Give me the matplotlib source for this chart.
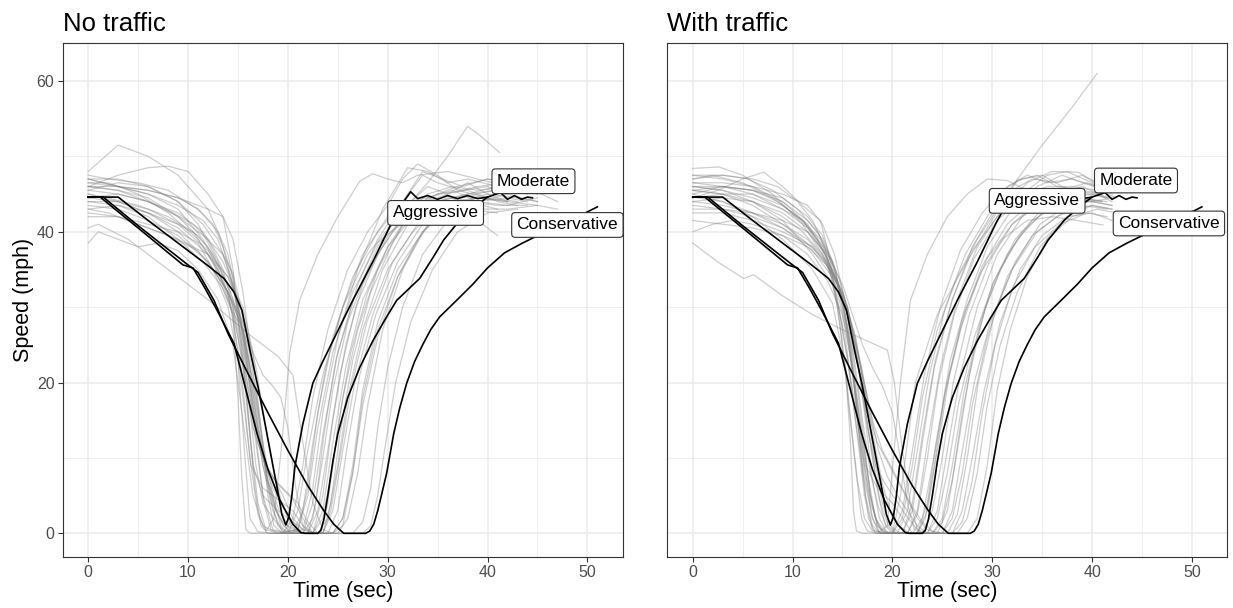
import matplotlib
matplotlib.use("Agg")
import matplotlib.pyplot as plt
from matplotlib.ticker import MultipleLocator

plt.rcParams["font.family"] = ["Liberation Sans", "DejaVu Sans"]

# ---- highlighted drivers (same three runs drawn on both panels) ----
aggressive = [(0, 44.6), (3.0, 44.6), (6, 41.5), (9, 38.5), (12, 35.5), (13.6, 33.8), (14.6, 32.0),
              (15.4, 29.6), (16.2, 24.3), (17.0, 19.5), (18.0, 12.5), (19.0, 5.5), (19.4, 2.5), (19.8, 1.1),
              (20.1, 2.2), (20.4, 5.0), (20.7, 8.8), (21.5, 14.5), (22.5, 19.9), (23.5, 22.8), (24.5, 25.5),
              (26.5, 30.9), (28.5, 36), (30.4, 41.2), (31.4, 43.6), (32.3, 45.3), (33.0, 44.4), (34, 44.8),
              (35, 44.3), (36, 44.8), (37, 44.4), (38, 44.8), (39, 44.4), (40, 44.6)]
moderate = [(0, 44.6), (1.2, 44.6), (5, 40.5), (9.5, 35.6), (10.5, 35.2), (11.7, 32.5), (12.9, 29.6),
            (14.6, 25.2), (15.8, 19.0), (16.9, 13.3), (18.0, 8.5), (19.2, 4.4), (20.5, 1.2), (21.3, 0.1),
            (21.7, 0), (23.0, 0), (23.3, 0.4), (23.6, 1.8), (24.0, 5), (24.5, 9.5), (25, 13.2), (26, 18),
            (27.2, 22), (28.5, 25.5), (29.8, 28.5), (30.9, 30.9), (33.2, 33.8), (34.5, 36.5), (35.6, 38.9),
            (37.2, 41.5), (38.6, 43.2), (40, 44.6), (41.3, 45.2), (42, 44.3), (42.7, 44.8), (43.4, 44.3),
            (44, 44.6), (44.5, 44.5)]
conservative = [(0, 44.6), (1.5, 44.6), (5, 40.8), (9.8, 35.8), (11, 34.6), (12.6, 30.9), (14, 26.5),
                (16, 21.2), (18, 16.0), (20, 11.0), (22, 6.3), (23.5, 3.2), (24.6, 1.2), (25.6, 0),
                (27.8, 0), (28.2, 0.3), (28.6, 1.2), (29.0, 3.0), (29.4, 5.2), (29.9, 8), (30.6, 13.2),
                (31.2, 16.6), (31.9, 19.9), (32.7, 22.8), (33.5, 25), (34.3, 27), (35.2, 28.7), (36.9, 30.9),
                (38.5, 33), (40.0, 35.2), (41.7, 37.2), (43.5, 38.5), (45.2, 39.6), (48, 41.3), (51, 43.3)]

# label anchor points (time, speed) for each panel
labels_no_traffic = {"Aggressive": (34.8, 42.5), "Moderate": (44.6, 46.7), "Conservative": (48.0, 40.9)}
labels_with_traffic = {"Aggressive": (34.5, 44.1), "Moderate": (44.4, 46.8), "Conservative": (47.7, 41.1)}

# ---- other drivers, no traffic ----
nt01 = [(0, 48), (3, 51.5), (6, 50), (9, 47.5), (12, 43), (14, 37), (15.5, 27), (16.5, 15), (17.5, 5), (18.5, 0.5), (20, 0), (21.5, 0.5), (22.5, 6), (23.5, 16), (25, 26), (27, 35), (29.5, 43), (32, 48.5), (34, 48), (36, 46.5), (38, 47), (41, 46), (44, 45)]
nt02 = [(0, 46), (3, 47.5), (6, 48.5), (8, 48.7), (10, 48), (12, 45), (13.5, 42), (14.5, 35), (15.5, 22), (16.5, 9), (17.5, 5), (19, 3), (20.5, 1.5), (21.5, 0), (22, 0), (22.8, 4), (23.6, 13), (24.8, 23), (26.6, 31), (29, 38), (31.5, 43), (34, 46), (36, 45), (38, 46.5), (40, 45), (42, 44)]
nt03 = [(0, 40.5), (1, 41), (4, 39), (8, 35), (12, 31), (16, 26.5), (19, 23.5), (20.5, 21), (21.5, 12), (22.5, 4), (23.5, 0.5), (24.5, 0), (25.5, 1), (26.5, 8), (27.5, 18), (29, 27), (31, 34), (33, 39), (35.5, 43), (38, 44), (41, 43)]
nt04 = [(0, 38.5), (1, 40), (3, 39), (5, 38), (7, 38.5), (9, 37.5), (11, 35), (13, 31), (14.5, 25), (15.5, 15), (16.5, 5), (17.5, 1), (19, 0), (21, 0.5), (22, 5), (23, 14), (24.5, 24), (26.5, 32), (29, 38.5), (32, 42), (35, 43.5), (38, 43), (41, 42.5)]
nt05 = [(0, 44), (3, 44), (6, 42.5), (9, 40.5), (12, 37), (14, 32), (15.3, 22), (16.2, 10), (17, 2.5), (17.8, 0.3), (18.6, 2), (19.4, 12), (20.2, 24), (21.2, 31), (23, 37), (25, 42), (27.2, 46.7), (28.5, 47.7), (30, 47), (31.5, 46.5), (33, 47.5), (36, 48), (39, 47), (42, 46)]
nt06 = [(0, 47.5), (2, 47), (5, 46.5), (8, 45.5), (11, 43), (13, 40), (14.5, 34), (15.5, 27), (16.5, 18), (17.5, 9), (18.5, 3), (19.5, 0), (22, 0), (23, 3), (24, 11), (25.2, 21), (26.8, 30), (29, 37), (31.5, 42), (34, 45), (36.5, 46), (39, 45.5), (42, 46), (45, 45)]
nt07 = [(0, 47), (3, 46), (6, 45), (9, 43), (11.5, 39), (13, 35), (14.5, 29), (15.5, 18), (16.3, 9), (17.5, 6), (19, 4.5), (20.5, 3), (21.5, 1), (22.5, 0), (23.3, 0), (24, 4), (25, 14), (26.3, 24), (28, 32), (30, 38), (32, 42), (34, 44.5), (36.5, 45.5), (39, 44), (42, 44.5), (44, 44)]
nt08 = [(0, 46.5), (2, 46.5), (5, 45), (8, 42.5), (11, 39), (13, 35), (14.5, 30), (15.5, 24), (16.3, 12), (17, 4), (17.8, 0.5), (19, 0), (21, 0.5), (22, 6), (23, 16), (24.5, 26), (26.5, 34), (29, 40), (31.5, 44), (33.5, 48), (35.5, 47), (37.5, 46), (40, 47), (43, 46)]
nt09 = [(0, 46), (3, 45.5), (6, 44.5), (9, 42), (12, 38), (14, 33), (15.5, 27), (16.5, 20), (17.5, 12), (18.5, 5), (19.3, 1), (20, 0), (21.5, 0), (22.5, 2), (23.5, 10), (24.5, 19), (26, 28), (28, 35), (30.5, 40), (33, 43), (36, 44.5), (39, 44), (42, 45), (45, 44)]
nt10 = [(0, 45.5), (3, 46.5), (6, 46), (9, 44), (11, 41), (13, 36), (14.5, 31), (15.8, 24), (16.8, 13), (17.6, 4), (18.3, 0.5), (19.5, 0), (22.5, 0), (23.5, 5), (24.5, 15), (25.8, 25), (27.5, 33), (30, 39.5), (33, 43.5), (36, 45), (39, 46), (42, 46.5), (45, 45)]
nt11 = [(0, 45), (2, 44.5), (5, 43.5), (8, 42), (10.5, 40), (12.5, 36), (14.5, 30.5), (16, 25), (17, 17), (17.8, 9), (19, 6.5), (20.5, 4.5), (21.5, 2), (22.5, 0), (23.5, 0), (24.3, 3), (25.2, 10), (26.3, 19), (27.9, 28), (30, 35), (32.5, 40), (35, 43), (38, 44), (41, 43.5), (44, 43.5)]
nt12 = [(0, 44.5), (3, 44), (6, 43), (9, 41), (12, 37.5), (14, 34), (15.5, 30), (16.5, 24), (17.3, 14), (18, 5), (18.6, 1), (19.5, 0), (24, 0), (25, 3), (26, 12), (27.2, 21), (28.8, 29), (31, 36), (33.5, 41), (36, 43.5), (39, 44.5), (42, 44), (45, 43.5), (47, 43)]
nt13 = [(0, 44), (3, 43.5), (6, 42), (9, 39), (11.5, 36), (13.5, 32.5), (15, 28), (16.2, 20), (17, 12), (18, 8), (19.5, 6), (21, 4), (22, 1.5), (23, 0), (23.5, 0), (24.3, 4), (25.2, 13), (26.5, 23), (28.3, 32), (30.5, 38.5), (32.5, 43), (35, 45), (38, 45.5), (41, 44), (43, 43.5)]
nt14 = [(0, 43.5), (3, 43), (6, 41.5), (9, 39.5), (12, 36), (14, 32), (15.5, 27), (16.5, 20), (17.3, 12), (18.2, 5), (19, 1), (19.8, 0), (20.5, 0), (21.5, 3), (22.5, 12), (23.8, 22), (25.5, 30), (27.5, 37), (30, 42), (32, 44), (34, 44.5), (36, 43), (38.5, 42), (41, 39.5)]
nt15 = [(0, 43), (2, 42.5), (5, 41), (8, 39.5), (11, 37.5), (13, 34), (14.5, 29), (15, 18), (15.4, 7), (15.8, 0.5), (16.2, 0), (19.5, 0), (20.5, 2), (21.5, 9), (22.5, 18), (24, 27), (26, 35), (28, 40), (30, 43.5), (31.5, 47), (33, 49), (35, 47.5), (37, 45.5), (40, 44.5), (43, 44)]
nt16 = [(0, 42), (3, 42), (6, 41), (9, 40), (11, 38.5), (12.5, 35), (14, 30), (15, 23), (15.7, 10), (16.2, 2), (17, 0.2), (18.5, 0), (21.5, 0), (22.5, 4), (23.5, 13), (25, 24), (27, 33), (29, 39), (31.5, 44), (33.5, 47.5), (35, 46.5), (37.5, 45.5), (40, 46), (42, 45)]
nt17 = [(0, 45.5), (3, 45), (6, 44), (9, 42.5), (11.5, 40), (13.5, 36), (14.5, 33), (15.3, 28), (16, 19), (16.8, 9), (17.5, 4), (18.5, 2), (19.5, 0.5), (20.5, 0), (24.5, 0), (25.5, 2), (26.5, 9), (27.5, 19), (29, 28), (31, 35), (33.5, 40), (36, 43), (39, 44), (42, 43.5), (45, 44.5)]
nt18 = [(0, 46), (3, 45.5), (6, 44), (8.5, 42.5), (10.5, 41), (12, 39), (13.5, 35), (14.5, 30), (15.5, 22), (16.5, 14), (17.5, 10), (18.5, 7.5), (19.5, 5), (20.5, 2), (21.5, 0.5), (22.5, 0), (23.5, 3), (24.5, 12), (25.8, 22), (27.5, 31), (30, 38), (32.5, 42), (35, 44), (38, 45), (41, 45.5)]
nt19 = [(0, 47), (3, 47), (6, 46), (9, 44), (11.5, 41), (13.5, 37), (14.5, 33), (15.3, 26), (16, 16), (16.7, 6), (17.3, 1), (18, 0), (20, 0), (21, 3), (22, 11), (23.5, 21), (25.5, 30), (28, 37), (31, 42), (34, 46.5), (36, 50), (38, 54), (39.5, 52.5), (41.2, 50.5)]
nt20 = [(0, 46.5), (3, 46), (6, 45.5), (9, 44.5), (11, 43), (12.5, 41), (13.5, 38), (14.5, 33), (15.5, 26), (16.5, 17), (17.5, 9), (18.5, 4), (19.5, 1.5), (20.5, 0.3), (21.5, 0), (25, 0), (26, 2), (27, 8), (28, 17), (29.5, 27), (31.5, 35), (34, 41), (37, 44), (40, 45), (43, 44.5), (45, 44)]
nt21 = [(0, 43), (3, 43.5), (6, 42.5), (9, 41), (11, 39.5), (12.5, 37), (13.5, 34), (14.5, 29), (15.5, 23), (16.5, 16), (17.5, 10), (18.5, 6), (19.5, 3.5), (20.5, 1.5), (21.5, 0.5), (23, 0), (26.5, 0), (27.5, 1.5), (28.3, 6), (29, 14), (30, 22), (31.5, 30), (33.5, 37), (36, 41.5), (39, 43), (42, 43), (45, 43.5)]
nt22 = [(0, 47), (3, 46), (6, 45.5), (9, 44.5), (12, 43), (13.5, 42), (14.5, 39), (15.5, 32), (16.5, 22), (17.3, 13), (18, 7), (19, 3.5), (20, 1), (21, 0.2), (22, 0), (23.5, 0), (24.5, 3), (25.5, 11), (26.7, 20), (28.5, 29), (30.5, 36), (33, 41), (36, 44), (39, 45), (42, 46)]
nt23 = [(0, 45), (3, 44), (6, 42.5), (9, 40), (12, 36), (14, 32), (15.5, 28), (16.5, 24), (17.5, 21), (18.5, 19.5), (19.3, 18), (20, 14), (20.8, 6), (21.5, 1), (22.5, 0), (24.5, 0), (25.5, 2), (26.5, 8), (27.5, 17), (29, 26), (31, 34), (33.5, 40), (36, 43.5), (39, 44.5), (42, 44)]
nt24 = [(0, 44.5), (3, 45), (6, 44), (9, 42), (11.5, 39.5), (13.5, 37), (14.5, 34.5), (15.3, 30), (16.2, 22), (17, 14), (18, 7), (18.8, 3), (19.6, 1), (20.3, 0), (23, 0), (24, 2), (25, 9), (26, 18), (27.5, 27), (29.5, 35), (32, 41), (35, 44), (38, 45), (41, 46), (44.5, 45.5)]
nt25 = [(0, 42.5), (3, 42), (6, 40.5), (9, 39), (12, 37), (14, 34), (15.5, 29), (16.8, 22), (17.8, 14), (18.6, 8), (19.4, 4), (20.3, 1), (21.3, 0), (27.5, 0), (28.3, 1), (29, 5), (29.8, 12), (30.8, 20), (32.3, 28), (34.5, 35), (37, 40), (40, 42.5), (43, 43)]
nt26 = [(0, 46), (3, 46), (6, 45), (9, 43.5), (11.5, 41.5), (13, 39), (14, 35), (15, 30), (16, 23), (17, 14), (18, 7), (18.8, 3), (19.6, 1), (20.5, 0), (22.5, 0), (23.5, 2), (24.5, 9), (25.5, 18), (27, 27), (29, 35), (31.5, 41), (34, 44.5), (37, 46), (40, 47), (43, 46.5), (47, 44)]

# ---- other drivers, with traffic ----
wt01 = [(0, 48.4), (2.6, 48.6), (5, 47.5), (8, 45), (11, 41), (13, 37), (14.5, 32), (15.5, 26), (16.5, 17), (17.5, 8), (18.3, 2), (19, 0), (21, 0), (22, 3), (23, 12), (24.2, 22), (26, 31), (28, 38), (30, 42.5), (32, 45.5), (34, 47), (36.5, 46.5), (39, 47.5), (41, 46)]
wt02 = [(0, 44.5), (2.5, 45.5), (5, 47), (7.1, 47.9), (9, 46), (11, 43.5), (12.8, 41.5), (13.8, 36), (14.8, 27), (15.7, 16), (16.5, 7), (17.2, 2), (18, 0.3), (19.5, 0), (22.5, 0), (23.5, 4), (24.5, 13), (25.8, 23), (27.5, 31), (29.5, 38), (32, 43), (34.5, 46), (37, 47.5), (39, 46.5), (41.5, 45.5)]
wt03 = [(0, 38.5), (2.5, 36), (5.1, 33.8), (6.1, 34.3), (9, 31.5), (12, 29), (15, 27), (17.5, 25.5), (19.5, 24.3), (20.2, 20), (21, 11), (21.8, 4), (22.5, 0.5), (23.5, 0), (25, 0), (26, 3), (27, 11), (28.2, 20), (29.8, 28), (32, 35), (34.5, 40), (37, 42.5), (40, 43.5), (42, 43)]
wt04 = [(0, 46), (3, 45.5), (6, 44), (9, 41.5), (12, 37), (14, 33), (15.3, 26), (16.3, 15), (17.2, 5), (18, 0.5), (19, 0), (20, 0), (20.8, 5), (21.5, 12), (22.3, 20), (24.5, 29), (27, 35), (29.5, 40.5), (32, 46), (35, 51.5), (38, 56.5), (40.5, 61)]
wt05 = [(0, 45), (3, 44), (6, 42), (9, 39), (12, 35), (14, 30.5), (15.3, 22), (16.2, 10), (16.9, 2), (17.5, 0.3), (18.5, 0), (19.5, 1), (20.1, 10), (20.8, 20), (21.8, 30.9), (23.5, 37), (25.5, 42), (27.5, 45), (29.5, 47), (31.5, 46.8), (33.5, 45.5), (36, 45), (38.5, 44.5), (41, 44)]
wt06 = [(0, 47.5), (3, 47), (6, 46), (9, 44), (11.5, 41), (13.3, 37), (14.5, 31), (15.4, 24), (16.3, 15), (17.2, 7), (18, 2), (18.7, 0), (21, 0), (22, 4), (23, 13), (24.3, 23), (26, 31), (28, 37.5), (30.5, 42), (33, 45), (35.5, 47.5), (37.5, 48), (40, 46.5), (42, 45)]
wt07 = [(0, 47), (2, 47.5), (5, 46.5), (8, 44.5), (11, 41.5), (13, 38), (14.5, 33), (15.6, 26), (16.5, 16), (17.3, 9), (18.5, 6), (20, 4), (21, 2), (22, 0), (22.5, 0), (23.3, 2), (24.2, 9), (25.3, 19), (26.9, 28), (29, 35.5), (31.5, 41), (34, 44), (36.5, 45), (39, 46), (41.5, 44.5)]
wt08 = [(0, 46.5), (3, 46), (6, 45), (9, 43), (11.5, 40.5), (13.5, 36.5), (15, 31), (16, 24), (17, 14), (17.8, 5), (18.5, 1), (19.5, 0), (23.5, 0), (24.5, 3), (25.5, 11), (26.8, 21), (28.5, 30), (30.5, 37), (33, 42), (35.5, 44.5), (38, 45.5), (40.5, 45), (42, 44)]
wt09 = [(0, 46), (3, 46), (6, 45.5), (9, 44.5), (11.5, 42), (13, 39.5), (14.3, 35), (15.3, 28), (16.3, 18), (17.2, 8), (18, 2), (18.8, 0), (20.5, 0), (21.5, 3), (22.5, 11), (23.7, 21), (25.3, 30), (27.3, 37), (29.5, 42), (31.5, 46), (33.5, 47.5), (35.5, 46.5), (38, 47), (40.5, 46)]
wt10 = [(0, 45.5), (3, 45), (6, 44), (9, 42), (11, 40), (13, 37), (14.5, 33), (15.5, 29), (16.5, 23), (17.3, 15), (18, 7), (18.7, 2), (19.5, 0), (24, 0), (25, 2), (26, 9), (27.2, 19), (28.8, 28), (30.8, 35), (33, 40), (35.5, 43), (38, 44.5), (41, 44)]
wt11 = [(0, 45), (3, 46), (6, 45.5), (9, 44), (11.5, 41.5), (13, 39), (14, 36), (15, 31), (15.8, 24), (16.6, 14), (17.3, 5), (18, 1), (18.8, 0), (21.5, 0), (22.5, 3), (23.5, 12), (24.8, 22), (26.5, 31), (28.5, 38), (31, 43), (33.5, 46.5), (36, 48), (38.6, 47.9), (40.5, 46.5), (42, 46)]
wt12 = [(0, 44.6), (3, 44), (6, 42.5), (9, 40.5), (12, 37.5), (14, 34), (15.5, 29), (16.8, 21), (17.8, 12), (18.6, 5), (19.3, 1), (20, 0), (22.5, 0), (23.5, 3), (24.5, 11), (25.7, 21), (27.3, 29.5), (29.5, 36.5), (32, 41), (34.5, 43.5), (37, 44.5), (40, 44), (42, 43.5)]
wt13 = [(0, 44), (3, 43.5), (6, 42.5), (9, 41), (11.5, 39), (13.5, 36), (15, 32), (16.3, 26), (17.3, 18), (18.2, 10), (19, 4), (19.8, 1), (20.8, 0), (25, 0), (26, 2), (27, 8), (28, 17), (29.5, 26), (31.5, 34), (34, 39.5), (36.5, 42), (39, 43.5), (41.5, 43)]
wt14 = [(0, 43.5), (3, 43), (6, 42), (9, 40.5), (12, 38), (14, 34.5), (15.5, 30), (16.6, 22), (17.5, 14), (18.3, 9), (19.3, 6.5), (20.3, 4.5), (21.3, 2.5), (22.3, 0.8), (23, 0), (24.5, 0), (25.5, 3), (26.5, 11), (27.7, 21), (29.3, 30), (31.5, 37), (34, 41.5), (36.5, 43.5), (39, 44.5), (41.5, 44)]
wt15 = [(0, 42.5), (3, 42.5), (6, 41.5), (9, 40), (12, 38), (14, 35), (15.5, 30), (16.7, 23), (17.6, 16), (18.5, 12), (19.5, 9.5), (20.5, 7), (21.5, 4.5), (22.5, 2), (23.5, 0.5), (24.5, 0), (26, 0), (27, 3), (28, 10), (29.2, 19), (30.8, 28), (32.8, 35), (35, 39.5), (37.5, 42), (40, 42.5), (42, 41.5)]
wt16 = [(0, 40), (2, 41), (4, 41.5), (6, 41), (9, 39.5), (11.5, 37), (13.5, 33.5), (15, 29), (16, 22), (17, 13), (17.8, 5), (18.5, 1), (19.3, 0), (22, 0), (23, 2), (24, 9), (25.2, 18), (26.8, 27), (28.8, 34.5), (31, 39), (33.5, 41.5), (36, 42), (38.5, 41.5), (41.1, 40.9)]
wt17 = [(0, 47), (3, 47.5), (5.5, 47), (8, 45.5), (10.5, 43), (12.5, 40), (14, 36), (15, 31), (15.8, 25), (16.4, 17), (17, 8), (17.6, 2), (18.3, 0), (20, 0), (21, 2), (22, 9), (23, 18), (24.5, 27), (26.5, 34), (28.5, 39), (30.5, 43), (32.5, 46.8), (34.5, 47.5), (36.5, 46), (39, 45.5), (41, 45)]
wt18 = [(0, 46), (3, 45.5), (6, 44.5), (9, 43), (11, 41.5), (12.8, 39), (14, 35.5), (15, 31), (15.9, 24), (16.6, 16), (17.2, 9), (17.8, 4), (18.5, 1.5), (19.3, 0.3), (20.3, 0), (23, 0), (24, 3), (25, 10), (26.1, 20), (27.7, 29), (29.7, 36), (32, 41), (34.5, 44), (37, 45.5), (39.5, 46.5), (42, 45.5)]
wt19 = [(0, 45.5), (3, 45), (6, 43.5), (9, 41), (11, 39), (13, 36.5), (14.5, 33), (15.8, 28), (17, 21), (18, 15), (19, 11), (20, 8.5), (21, 6), (22, 3.5), (23, 1.5), (24, 0.3), (25, 0), (27.5, 0), (28.5, 2), (29.5, 9), (30.5, 19), (31.8, 27), (33.5, 34), (35.5, 39), (38, 42), (40.5, 43), (42.5, 42.5)]
wt20 = [(0, 44.5), (3, 45), (6, 45), (9, 43.5), (11, 41.5), (12.5, 39), (13.5, 36), (14.5, 30), (15.3, 22), (15.8, 12), (16.1, 3), (16.4, 0.3), (17, 0), (20, 0), (21, 3), (22, 11), (23.2, 21), (24.8, 30), (26.8, 37.5), (29, 42.5), (31, 45.5), (33, 47), (35, 47.5), (37, 46), (39.5, 45), (41.5, 44.5)]
wt21 = [(0, 43), (3, 43), (6, 42.5), (9, 41.5), (11.5, 40), (13.3, 37), (14.6, 33), (15.8, 28), (16.9, 22), (17.8, 16), (18.6, 11), (19.5, 7.5), (20.5, 5), (21.5, 3), (22.5, 1), (23.5, 0), (25.5, 0), (26.5, 2.5), (27.5, 10), (28.6, 20), (30.2, 29), (32.3, 36), (34.8, 41), (37.5, 43.5), (40, 44), (42, 43.5)]
wt22 = [(0, 46.5), (3, 46.5), (6, 46), (9, 45), (11.5, 43.5), (13, 41), (14.2, 37), (15.2, 31), (16.2, 23), (17, 15), (17.8, 8), (18.6, 3.5), (19.4, 1), (20.3, 0), (23.5, 0), (24.5, 2), (25.5, 8), (26.6, 17), (28.2, 26), (30.2, 33.5), (32.5, 39), (35, 42.5), (37.5, 44.5), (40, 45), (42, 44.5)]
wt23 = [(0, 44), (3, 44.5), (6, 44), (9, 42.5), (11.5, 40), (13.5, 37), (15, 33), (16, 29), (17, 25), (18, 22), (19, 19.5), (20, 16), (20.8, 10), (21.5, 4), (22.2, 0.5), (23, 0), (26.5, 0), (27.5, 2), (28.5, 8), (29.5, 17), (30.8, 25), (32.5, 32), (34.8, 38), (37.5, 42), (40, 43.5), (42, 43)]
wt24 = [(0, 45.5), (3, 46), (6, 45.5), (8.5, 44), (10.5, 42), (12.3, 39.5), (13.6, 37), (14.6, 34), (15.5, 30), (16.4, 24), (17.2, 17), (18, 10), (18.8, 4), (19.6, 1), (20.5, 0), (24, 0), (25, 1.5), (26, 7), (27, 16), (28.3, 25), (30, 33), (32.3, 39), (35, 43), (37.5, 44.5), (40, 44), (42, 44.5)]
wt25 = [(0, 47.5), (3, 47.5), (6, 47), (8.5, 46), (10.5, 44), (12, 41.5), (13.2, 38), (14.2, 33), (15.1, 26), (15.9, 20), (16.8, 12), (17.6, 6), (18.3, 2), (19, 0.3), (19.8, 0), (21.5, 0), (22.5, 2.5), (23.5, 10), (24.6, 20), (26.2, 29), (28.2, 36.5), (30.5, 41.5), (33, 44.5), (35.5, 46), (38, 46), (40.5, 45.5), (42.5, 44.5)]
wt26 = [(0, 41.5), (3, 41), (6, 40.5), (9, 39.5), (11.5, 38), (13.5, 35.5), (15, 32), (16.3, 26), (17.3, 19), (18.2, 12), (19, 6.5), (19.8, 3), (20.7, 1), (21.7, 0), (26, 0), (27, 1.5), (28, 7), (29, 16), (30.3, 25), (32, 32.5), (34.3, 38), (36.8, 41), (39.5, 42.5), (41.5, 42)]

no_traffic = [nt01, nt02, nt03, nt04, nt05, nt06, nt07, nt08, nt09, nt10, nt11, nt12, nt13,
              nt14, nt15, nt16, nt17, nt18, nt19, nt20, nt21, nt22, nt23, nt24, nt25, nt26]
with_traffic = [wt01, wt02, wt03, wt04, wt05, wt06, wt07, wt08, wt09, wt10, wt11, wt12, wt13,
                wt14, wt15, wt16, wt17, wt18, wt19, wt20, wt21, wt22, wt23, wt24, wt25, wt26]
highlighted = {"Aggressive": aggressive, "Moderate": moderate, "Conservative": conservative}


def draw_panel(ax, others, label_pos, title, show_y):
    # grey background drivers
    for run in others:
        t, v = zip(*run)
        ax.plot(t, v, color="#7f7f7f", alpha=0.38, lw=0.9, zorder=2)
    # the three reference drivers
    for name, run in highlighted.items():
        t, v = zip(*run)
        ax.plot(t, v, color="black", lw=1.2, zorder=3)
        x, y = label_pos[name]
        ax.text(x, y, name, ha="center", va="center", fontsize=12.5, color="black", zorder=4,
                bbox=dict(boxstyle="round,pad=0.28,rounding_size=0.2", fc="white", ec="#333333", lw=0.8))

    ax.set_xlim(-2.55, 53.55)
    ax.set_ylim(-3.1, 65.0)
    ax.xaxis.set_major_locator(MultipleLocator(10))
    ax.xaxis.set_minor_locator(MultipleLocator(5))
    ax.yaxis.set_major_locator(MultipleLocator(20))
    ax.yaxis.set_minor_locator(MultipleLocator(10))
    ax.grid(which="major", color="#ebebeb", lw=1.1, zorder=0)
    ax.grid(which="minor", color="#ebebeb", lw=0.55, zorder=0)
    ax.set_axisbelow(True)
    for s in ax.spines.values():
        s.set_color("#333333")
        s.set_linewidth(0.8)
    ax.tick_params(which="major", length=3.5, width=0.8, color="#333333",
                   labelsize=11.5, labelcolor="#4d4d4d", pad=2.5)
    ax.tick_params(which="minor", length=0)
    ax.set_xlabel("Time (sec)", fontsize=15.5, labelpad=1)
    if show_y:
        ax.set_ylabel("Speed (mph)", fontsize=15.5, labelpad=2)
    else:
        ax.tick_params(axis="y", which="both", left=False, labelleft=False)
    ax.set_title(title, loc="left", fontsize=18.5, pad=9)


fig = plt.figure(figsize=(12.33, 6.08), dpi=100)
ax1 = fig.add_axes([0.0509, 0.0844, 0.4542, 0.8444])
ax2 = fig.add_axes([0.5412, 0.0844, 0.4542, 0.8444])
draw_panel(ax1, no_traffic, labels_no_traffic, "No traffic", True)
draw_panel(ax2, with_traffic, labels_with_traffic, "With traffic", False)

fig.savefig("out.png", dpi=100)
